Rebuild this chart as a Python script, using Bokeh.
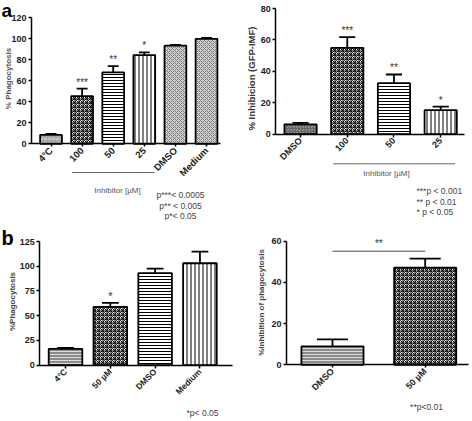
import math
from bokeh.plotting import figure
from bokeh.models import Range1d, FixedTicker, Label
from bokeh.layouts import row, column
from bokeh.core.properties import value
from bokeh.embed import file_html
from bokeh.resources import INLINE

FONT = "Liberation Sans"

# ---------------- data ----------------
a1_cats = ["4°C", "100", "50", "25", "DMSO", "Medium"]
a1_vals = [8.5, 45.5, 68.0, 84.5, 93.5, 100.0]
a1_errs = [1.0, 7.0, 6.0, 2.5, 0.8, 0.8]
a1_stars = ["", "***", "**", "*", "", ""]
a1_yticks = [0, 20, 40, 60, 80, 100, 120]

a2_cats = ["DMSO", "100", "50", "25"]
a2_vals = [6.2, 55.0, 32.5, 15.3]
a2_errs = [1.0, 6.8, 5.5, 2.3]
a2_stars = ["", "***", "**", "*"]
a2_yticks = [0, 20, 40, 60, 80]

b1_cats = ["4°C", "50 µM", "DMSO", "Medium"]
b1_vals = [16.4, 59.0, 93.0, 103.0]
b1_errs = [1.2, 4.0, 4.5, 11.8]
b1_stars = ["", "*", "", ""]
b1_yticks = [0, 25, 50, 75, 100, 125]

b2_cats = ["DMSO", "50 µM"]
b2_vals = [8.9, 47.1]
b2_errs = [3.4, 4.4]
b2_yticks = [0, 20, 40, 60]

# ---------------- styles ----------------
GRAY_DOTS = dict(fill_color="#a8a8a8", hatch_pattern="horizontal_dash", hatch_color="#e8e8e8", hatch_scale=4, hatch_weight=1)
DIAG_GRAY = dict(fill_color="#cfcfcf", hatch_pattern="diagonal_cross", hatch_color="#7f7f7f", hatch_scale=4, hatch_weight=1)
HLINES = dict(fill_color="white", hatch_pattern="horizontal_line", hatch_color="black", hatch_scale=3, hatch_weight=1)
VLINES = dict(fill_color="white", hatch_pattern="vertical_line", hatch_color="black", hatch_scale=4, hatch_weight=1)
CHECK = dict(fill_color="white", hatch_pattern="criss_cross", hatch_color="black", hatch_scale=4, hatch_weight=1)
GRAY_CROSS = dict(fill_color="#a8a8a8", hatch_pattern="criss_cross", hatch_color="#666666", hatch_scale=3, hatch_weight=1)
GRAY_HL = dict(fill_color="#8c8c8c", hatch_pattern="horizontal_line", hatch_color="#dddddd", hatch_scale=3, hatch_weight=1)


class Panel:
    """A figure whose frame fills its whole canvas; axes are pinned inside it."""

    def __init__(self, origin, w, h, xanchor, yanchor, yticks, cats, xfont, yfont):
        ox, oy = origin
        (xd0, xp0), (xd1, xp1) = xanchor
        (yd0, yp0), (yd1, yp1) = yanchor
        self.fx = lambda px: xd0 + (px - xp0) * (xd1 - xd0) / (xp1 - xp0)
        self.fy = lambda py: yd0 + (py - yp0) * (yd1 - yd0) / (yp1 - yp0)
        p = figure(width=w, height=h,
                   x_range=Range1d(self.fx(ox), self.fx(ox + w)),
                   y_range=Range1d(self.fy(oy + h), self.fy(oy)),
                   output_backend="svg", toolbar_location=None, min_border=0,
                   min_border_left=0, min_border_right=0, min_border_top=0, min_border_bottom=0)
        p.xgrid.visible = False
        p.ygrid.visible = False
        p.outline_line_color = None
        p.background_fill_color = "white"
        p.border_fill_color = "white"
        xa, ya = p.xaxis[0], p.yaxis[0]
        xa.fixed_location = yd0
        xa.bounds = (xd0, xd1)
        ya.fixed_location = xd0
        ya.bounds = (yd0, yd1)
        xa.ticker = FixedTicker(ticks=list(range(len(cats))))
        xa.major_label_overrides = {i: c for i, c in enumerate(cats)}
        xa.major_label_orientation = math.pi / 4
        ya.ticker = FixedTicker(ticks=yticks)
        for ax, fs in ((xa, xfont), (ya, yfont)):
            ax.axis_line_width = 1.5
            ax.axis_line_color = "black"
            ax.major_tick_line_width = 1.5
            ax.major_tick_out = 3
            ax.major_tick_in = 0
            ax.minor_tick_line_color = None
            ax.major_label_text_font = FONT
            ax.major_label_text_font_style = "bold"
            ax.major_label_text_font_size = fs
            ax.major_label_text_color = "#222222"
            ax.major_label_standoff = 2
        self.p = p

    def label(self, px, py, text, size, style="normal", color="#222222",
              align="left", baseline="middle", angle=0.0, dx=None):
        x = dx if dx is not None else self.fx(px)
        self.p.add_layout(Label(x=x, y=self.fy(py), text=text, text_font=FONT,
                                text_font_size=f"{size}px", text_font_style=style,
                                text_color=color, text_align=align,
                                text_baseline=baseline, angle=angle))

    def hline(self, x0, x1, py, color="#666666", width=1.0):
        y = self.fy(py)
        self.p.segment(x0=[x0], y0=[y], x1=[x1], y1=[y], line_color=color, line_width=width)

    def bars(self, vals, errs, styles, width, stars=None, star_size="10px"):
        p = self.p
        xs = list(range(len(vals)))
        for i, (v, st) in enumerate(zip(vals, styles)):
            p.vbar(x=[xs[i]], top=[v], bottom=0, width=width, line_color="black",
                   line_width=1.8, **st)
        tops = [v + e for v, e in zip(vals, errs)]
        p.segment(x0=xs, y0=vals, x1=xs, y1=tops, line_color="black", line_width=1.8)
        p.segment(x0=[x - width / 4 for x in xs], y0=tops, x1=[x + width / 4 for x in xs],
                  y1=tops, line_color="black", line_width=1.8)
        if stars:
            p.text(x=xs, y=tops, text=stars, text_align="center", text_baseline="bottom",
                   y_offset=-1, text_font=value(FONT), text_font_size=star_size,
                   text_color="#333333")


# ---------------- panel a, left ----------------
A1 = Panel((0, 0), 236, 220, ((-0.627, 31), (5.45, 220)), ((0, 143.3), (120, 17.3)),
           a1_yticks, a1_cats, "9.5px", "9px")
A1.bars(a1_vals, a1_errs, [GRAY_DOTS, CHECK, HLINES, VLINES, DIAG_GRAY, DIAG_GRAY], 0.7, a1_stars)
A1.label(1, 10, "a", 19, "bold", "black", "left", "alphabetic")
A1.label(8, 78, "% Phagocytosis", 8, "bold", "#555555", "center", "middle", math.pi / 2)
A1.hline(0.67, 3.33, 172)
A1.label(0, 190, "Inhibitor [µM]", 8, "normal", "#555555", "center", dx=2.14)
A1.label(180, 194, "p***< 0.0005", 8.5, "normal", "#444444", "center")
A1.label(180, 205, "p** < 0.005", 8.5, "normal", "#444444", "center")
A1.label(180, 215, "p*< 0.05", 8.5, "normal", "#444444", "center")

# ---------------- panel a, right ----------------
A2 = Panel((236, 0), 236, 220, ((-0.53, 275.3), (3.51, 464)), ((0, 133.7), (80, 8)),
           a2_yticks, a2_cats, "9px", "9px")
A2.bars(a2_vals, a2_errs, [GRAY_CROSS, CHECK, HLINES, VLINES], 0.69, a2_stars)
A2.label(251, 78, "% Inhibicion (GFP-IMF)", 9.5, "bold", "#333333", "center", "middle", math.pi / 2)
A2.hline(0.7, 3.31, 163.3)
A2.label(0, 172.7, "Inhibitor [µM]", 8, "normal", "#555555", "center", dx=1.84)
A2.label(416, 190, "***p <  0.001", 8.5, "normal", "#444444", "left")
A2.label(416, 201, "** p <  0.01", 8.5, "normal", "#444444", "left")
A2.label(416, 211, "*  p <  0.05", 8.5, "normal", "#444444", "left")

# ---------------- panel b, left ----------------
B1 = Panel((0, 220), 236, 201, ((-0.574, 39.3), (3.72, 231.7)), ((0, 364.7), (125, 241)),
           b1_yticks, b1_cats, "8.5px", "9px")
B1.bars(b1_vals, b1_errs, [GRAY_HL, CHECK, HLINES, VLINES], 0.75, b1_stars, "11px")
B1.label(1, 237, "b", 20, "bold", "black", "left", "alphabetic")
B1.label(11.7, 301, "%Phagocytosis", 8, "bold", "#444444", "center", "middle", math.pi / 2)
B1.label(202, 412.7, "*p< 0.05", 8.5, "normal", "#444444", "center")

# ---------------- panel b, right ----------------
B2 = Panel((236, 220), 236, 201, ((-0.496, 286), (1.464, 467.7)), ((0, 364.3), (60, 240.7)),
           b2_yticks, b2_cats, "9px", "9px")
B2.bars(b2_vals, b2_errs, [GRAY_HL, CHECK], 0.67)
B2.hline(0, 1, 250.7, "#444444", 1)
B2.label(0, 248.5, "**", 10, "normal", "#333333", "center", "bottom", dx=0.5)
B2.label(261, 302, "%Inhibition of phagocytosis", 8, "bold", "#444444", "center", "middle", math.pi / 2)
B2.label(426, 406.7, "**p<0.01", 8.5, "normal", "#444444", "center")

layout = column(row(A1.p, A2.p), row(B1.p, B2.p))
open("out.html", "w").write(file_html(layout, INLINE, "figure"))
